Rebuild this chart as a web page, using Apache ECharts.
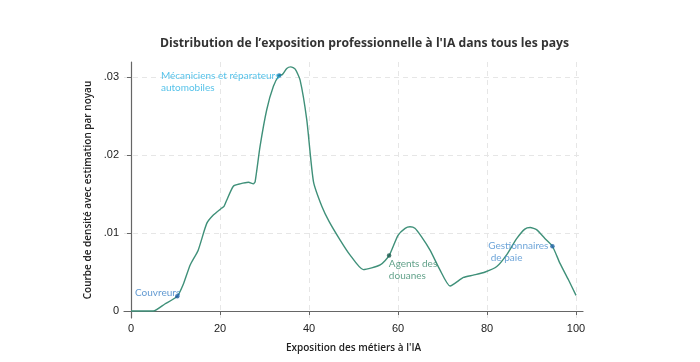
<!DOCTYPE html>
<html><head><meta charset="utf-8">
<script src="https://cdn.jsdelivr.net/npm/echarts@6/dist/echarts.min.js"></script>
<style>html,body{margin:0;padding:0;background:#fff}#c{width:700px;height:362px}</style>
</head><body><div id="c"></div>
<script>
var exposure = [0,5,7.6,10.4,11.8,13.3,15.1,17,18.5,20.4,20.9,21.5,23,24.5,26.4,27.5,27.9,29,30.5,32,33.3,34,35,35.9,36.9,38,39.5,41,42.9,44.5,47,49.2,52.2,56,58,60,61.6,62.7,63.8,65.3,67.2,69.4,71.7,74.7,76.9,79.6,82.2,84.4,86.7,88.5,89.7,91.2,93,94.7,96.4,98.3,100];
var density = [0,0,0.0009,0.0019,0.0035,0.0059,0.0078,0.0112,0.0123,0.0132,0.0134,0.0142,0.016,0.0163,0.0165,0.0163,0.0166,0.0211,0.0258,0.0288,0.0302,0.0303,0.0311,0.0313,0.031,0.0296,0.0245,0.0166,0.0134,0.0115,0.0091,0.0072,0.0053,0.0059,0.0071,0.0097,0.0106,0.0108,0.0106,0.0095,0.0078,0.0053,0.0032,0.0043,0.0046,0.005,0.0057,0.0072,0.0093,0.0105,0.0107,0.0104,0.0093,0.0083,0.0061,0.004,0.002];
var jobNames = ['Couvreurs', 'Mécaniciens et réparateurs\nautomobiles', 'Agents des\ndouanes', 'Gestionnaires\n de paie'];
var jobX = [10.4, 33.3, 58, 94.7];
var jobY = [0.0019, 0.0302, 0.0071, 0.0083];
var xTicks = [0, 20, 40, 60, 80, 100];
var yTicks = [0, 0.01, 0.02, 0.03];
var yTickLabels = ['0', '.01', '.02', '.03'];

var labelStyles = [
  {color:'#3a7fc6', point:'#1f5aa0', pos:[-40,-7]},
  {color:'#2cb3e4', point:'#1678a8', pos:[-116,-3]},
  {color:'#3a8a6c', point:'#1d5d50', pos:[2,4]},
  {color:'#4a8fd0', point:'#2466a8', pos:[-62,-4]}
];

var linePts = exposure.map(function(x,i){return [x, density[i]];});
var jobPts = jobX.map(function(x,i){
  var s = labelStyles[i];
  return {value:[x, jobY[i]], itemStyle:{color:s.point},
    label:{show:true, formatter:jobNames[i], position:s.pos, color:s.color, align:'left', verticalAlign:'top'}};
});

var chart = echarts.init(document.getElementById('c'));
chart.setOption({
  animation:false,
  title:{text:'Distribution de l’exposition professionnelle à l\'IA dans tous les pays', left:155, top:33,
    textStyle:{fontFamily:'Open Sans', fontSize:12.2, fontWeight:'bold', color:'#333'}},
  grid:{left:124, right:117, top:62, bottom:44},
  xAxis:{type:'value', min:-1.573, max:101.57,
    name:'Exposition des métiers à l\'IA', nameLocation:'middle', nameGap:25,
    nameTextStyle:{fontFamily:'Open Sans', fontSize:10, fontWeight:600, color:'#222'},
    axisLine:{show:true, lineStyle:{color:'#666', width:1.2}},
    axisTick:{show:true, length:4, lineStyle:{color:'#666'}, customValues:xTicks},
    axisLabel:{customValues:xTicks, fontFamily:'Liberation Sans', fontSize:11, color:'#222', margin:5},
    splitLine:{show:true, lineStyle:{color:'#e6e6e6', type:[5,4], width:1}}
  },
  yAxis:{type:'value', min:-0.000897, max:0.03192,
    name:'Courbe de densité avec estimation par noyau', nameLocation:'middle', nameGap:28,
    nameTextStyle:{fontFamily:'Open Sans', fontSize:10, fontWeight:600, color:'#222'},
    axisLine:{show:true, lineStyle:{color:'#666', width:1.2}},
    axisTick:{show:true, length:4, lineStyle:{color:'#666'}, customValues:yTicks},
    axisLabel:{customValues:yTicks, fontFamily:'Liberation Sans', fontSize:11, color:'#222', margin:5,
      formatter:function(v){var i=-1; for(var k=0;k<yTicks.length;k++){if(Math.abs(yTicks[k]-v)<1e-9)i=k;} return i>=0?yTickLabels[i]:'';}},
    splitLine:{show:true, lineStyle:{color:'#e6e6e6', type:[5,4], width:1}}
  },
  series:[
    {type:'line', data:linePts, showSymbol:false, smooth:0.2, lineStyle:{color:'#3f9079', width:1.4}, z:2},
    {type:'scatter', data:jobPts, symbolSize:4.5, z:3,
      label:{fontFamily:'Lato', fontSize:10, lineHeight:12}}
  ]
});
</script></body></html>
